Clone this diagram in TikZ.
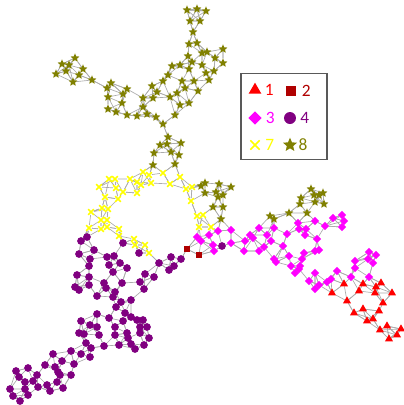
\documentclass[tikz,border=0pt]{standalone}
\usepackage{fontspec}
\setmainfont{Carlito}
\usetikzlibrary{shapes.geometric,shapes.misc,backgrounds,positioning}

\definecolor{olivec}{RGB}{128,128,0}
\definecolor{purplec}{RGB}{128,0,128}
\definecolor{maroonc}{RGB}{176,0,0}
\definecolor{magentac}{RGB}{255,0,255}
\definecolor{yellowc}{RGB}{255,255,0}
\definecolor{redc}{RGB}{255,0,0}

\newcount\netn \newcount\neti \newcount\netj
\newcount\neta \newcount\netb
\newcount\netda \newcount\netdb \newcount\netdc \newcount\netdd
\newcount\netja \newcount\netjb \newcount\netjc \newcount\netjd

\newcommand\netput[3]{\global\advance\netn by 1
  \node[#1] (v\the\netn) at (#2,#3) {};
  \expandafter\xdef\csname netx\the\netn\endcsname{#2}%
  \expandafter\xdef\csname nety\the\netn\endcsname{#3}}

\def\netscan{%
  \advance\netj by 1
  \ifnum\netj>\netn \else
    \ifnum\netj=\neti \else
      \neta=\csname netx\the\neti\endcsname\relax
      \advance\neta by -\csname netx\the\netj\endcsname\relax
      \netb=\csname nety\the\neti\endcsname\relax
      \advance\netb by -\csname nety\the\netj\endcsname\relax
      \multiply\neta by \neta \multiply\netb by \netb
      \advance\neta by \netb
      \ifnum\neta<\netdd
        \ifnum\neta<\netdc
          \netdd=\netdc \netjd=\netjc
          \ifnum\neta<\netdb
            \netdc=\netdb \netjc=\netjb
            \ifnum\neta<\netda
              \netdb=\netda \netjb=\netja \netda=\neta \netja=\netj
            \else
              \netdb=\neta \netjb=\netj
            \fi
          \else
            \netdc=\neta \netjc=\netj
          \fi
        \else
          \netdd=\neta \netjd=\netj
        \fi
      \fi
    \fi
    \expandafter\netscan
  \fi}

\def\netlinksloop{%
  \advance\neti by 1
  \ifnum\neti>\netn \else
    \netda=100000 \netdb=100000 \netdc=100000 \netdd=100000
    \netj=0 \netscan
    \draw[link] (v\the\neti) -- (v\the\netja) (v\the\neti) -- (v\the\netjb)
      (v\the\neti) -- (v\the\netjc) (v\the\neti) -- (v\the\netjd);
    \expandafter\netlinksloop
  \fi}
\def\netlinks{\neti=0 \netlinksloop}

\begin{document}
\begin{tikzpicture}[x=0.75pt,y=-0.75pt,
  link/.style={draw=black!33,line width=0.5pt},
  vbase/.style={inner sep=0pt,outer sep=0pt},
  trinode/.style={vbase,regular polygon,regular polygon sides=3,fill=redc,minimum size=7pt},
  sqnode/.style={vbase,rectangle,fill=maroonc,minimum size=4.8pt},
  dianode/.style={vbase,diamond,fill=magentac,minimum size=6.3pt},
  dotnode/.style={vbase,circle,fill=purplec,minimum size=5.8pt},
  crsnode/.style={vbase,cross out,draw=yellowc,line width=1.1pt,minimum size=4.2pt},
  starnode/.style={vbase,star,star points=5,star point ratio=2.2,fill=olivec,minimum size=7pt},
  keylabel/.style={inner sep=0pt,font=\fontsize{13}{15}\selectfont}]

\useasboundingbox (0,0) rectangle (404,405);

\foreach \x/\y in {187/10, 197/9, 206/11, 190/21, 200/21, 193/32, 189/44, 197/43, 223/49,
  202/53, 207/52, 188/56, 215/58, 192/62, 223/63, 172/66, 180/65, 202/65, 189/69, 206/73,
  214/71, 168/75, 163/81, 182/81, 194/81, 209/80, 152/86, 185/88, 177/93, 198/91, 157/92,
  143/98, 153/98, 170/97, 143/107, 180/105, 189/103, 137/116, 147/114, 156/117, 175/115,
  163/124, 75/58, 62/64, 69/65, 83/69, 66/71, 56/74, 79/75, 73/82, 92/80, 111/83, 107/88,
  127/89, 123/94, 108/97, 122/103, 108/109, 116/112, 127/115, 168/137, 160/145, 167/144,
  181/143, 154/153, 171/152, 179/155, 153/165, 175/164, 201/186, 205/183, 219/184, 231/187,
  205/193, 216/192, 223/195, 218/197, 213/207, 223/207, 221/219, 270/216, 274/219, 289/213,
  307/213, 300/204, 301/198, 315/202, 324/204, 311/189, 319/195, 323/193, 314/195}
  {\netput{starnode}{\x}{\y}}

\foreach \x/\y in {143/172, 149/175, 163/173, 180/177, 109/179, 115/179, 130/179, 137/182,
  141/185, 151/183, 170/184, 186/189, 192/187, 99/187, 116/188, 123/192, 137/193, 105/197,
  118/199, 191/201, 102/208, 108/209, 91/212, 101/220, 107/220, 89/228, 101/229, 107/227,
  119/229, 119/236, 134/239, 135/245, 145/245, 149/253, 197/216, 203/215, 199/227, 211/227}
  {\netput{crsnode}{\x}{\y}}

\foreach \x/\y in {197/237, 201/241, 209/235, 218/231, 231/230, 213/245, 231/243, 214/251,
  245/241, 244/251, 250/235, 253/238, 259/228, 274/228, 267/235, 271/241, 264/247, 259/251,
  283/246, 287/234, 298/223, 306/229, 299/229, 305/235, 315/221, 325/226, 333/218, 342/215,
  344/221, 342/227, 317/239, 319/250, 315/251, 289/256, 274/259, 276/262, 304/253, 302/259,
  291/266, 300/266, 295/273, 299/269, 315/273, 309/281, 319/285, 327/282, 331/279, 337/271,
  351/277, 355/268, 355/261, 369/252, 376/255, 368/259, 373/263, 369/277, 315/289}
  {\netput{dianode}{\x}{\y}}

\foreach \x/\y in {332/293, 344/284, 363/284, 376/287, 381/283, 359/291, 375/293, 392/293,
  347/301, 383/303, 363/309, 354/313, 379/311, 373/319, 367/321, 387/326, 380/330, 401/329,
  397/335, 389/339}
  {\netput{trinode}{\x}{\y}}

\foreach \x/\y in {187/249, 199/255}
  {\netput{sqnode}{\x}{\y}}

\foreach \x/\y in {87/237, 81/241, 94/250, 123/243, 139/253, 79/254, 90/259, 107/257, 114/256,
  120/263, 159/263, 171/257, 181/259, 89/266, 109/265, 127/268, 113/272, 77/275, 89/277,
  145/274, 169/270, 174/266, 154/277, 75/287, 79/290, 89/285, 104/283, 106/288, 122/283,
  140/282, 144/289, 115/292, 97/296, 113/297, 131/300, 121/302, 116/307, 97/314, 125/313,
  109/318, 131/317, 137/320, 143/320, 81/321, 90/325, 97/327, 115/327, 123/321, 140/327,
  147/327, 79/333, 84/334, 99/335, 115/335, 127/333, 128/338, 140/333, 149/338, 86/343,
  91/348, 104/346, 119/345, 131/344, 135/349, 144/345, 71/351, 81/354, 53/354, 90/357,
  62/361, 74/364, 45/365, 55/367, 58/372, 60/375, 71/375, 28/368, 16/371, 19/377, 37/375,
  25/382, 33/381, 57/382, 47/385, 10/389, 25/389, 38/387, 50/391, 63/388, 13/396, 28/395,
  20/401, 222/246}
  {\netput{dotnode}{\x}{\y}}

\begin{scope}[on background layer]
  \netlinks
\end{scope}

\node[draw=black!65,line width=0.8pt,minimum width=64.5pt,minimum height=65pt] (legend) at (284,116.5) {};
\node[trinode,minimum size=11pt] (k1) at (255,90) {};
\node[keylabel,text=redc] (l1) [right=4pt of k1] {1};
\node[sqnode,minimum size=8pt] (k2) at (291,91) {};
\node[keylabel,text=maroonc] (l2) [right=4pt of k2] {2};
\node[dianode,minimum size=10pt] (k3) at (255,118) {};
\node[keylabel,text=magentac] (l3) [right=3pt of k3] {3};
\node[dotnode,minimum size=9pt] (k4) at (290,118) {};
\node[keylabel,text=purplec] (l4) [right=3pt of k4] {4};
\node[crsnode,minimum size=7pt] (k7) at (255,145) {};
\node[keylabel,text=yellowc] (l7) [right=4pt of k7] {7};
\node[starnode,minimum size=11pt] (k8) at (290,145) {};
\node[keylabel,text=olivec] (l8) [right=3pt of k8] {8};
\end{tikzpicture}
\end{document}
